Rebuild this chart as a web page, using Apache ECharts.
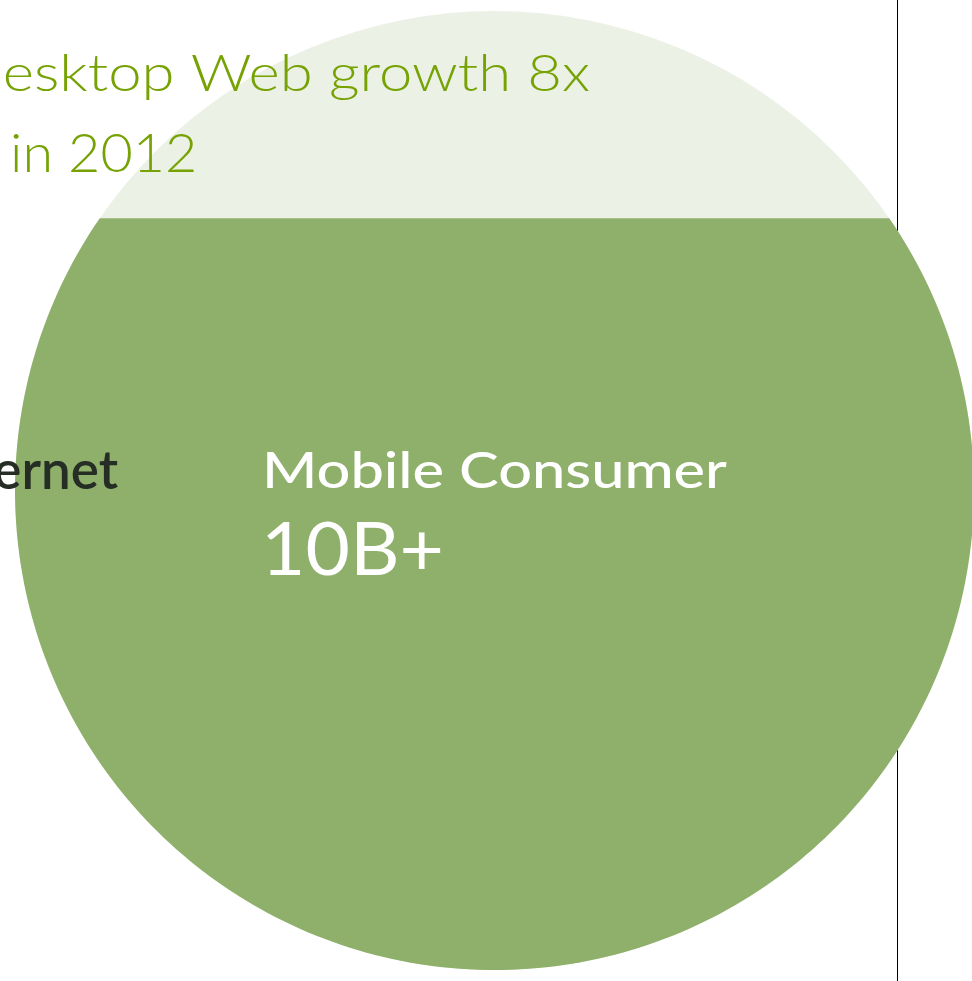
<!DOCTYPE html>
<html>
<head>
<meta charset="utf-8">
<script src="https://cdn.jsdelivr.net/npm/echarts@6/dist/echarts.min.js"></script>
<style>
  html, body { margin: 0; padding: 0; background: #fff; }
  #main { width: 972px; height: 981px; }
</style>
</head>
<body>
<div id="main"></div>
<script>
// share of the circle's height that is Mobile Consumer (from the bottom up)
const fillLevels = [[50, 78.4]]
const topLines = ['Desktop Web growth 8x', 'in 2012']
const sideLabel = ['Internet']
const mobileLabel = ['Mobile Consumer', '10B+']

const chart = echarts.init(document.getElementById('main'))
const FONT = 'Lato'

function renderBubble(params, api) {
  const top = api.coord([50, 100])
  const bottom = api.coord([50, 0])
  const cx = top[0]
  const r = (bottom[1] - top[1]) / 2
  const cy = top[1] + r
  const chordY = api.coord([50, api.value(1)])[1]
  const s0 = Math.max(-1, Math.min(1, (chordY - cy) / r))
  const t0 = Math.asin(s0)
  const t1 = Math.PI - t0
  const pts = []
  const n = 240
  for (let i = 0; i <= n; i++) {
    const t = t0 + (t1 - t0) * i / n
    pts.push([cx + r * Math.cos(t), cy + r * Math.sin(t)])
  }
  return {
    type: 'group',
    children: [
      { type: 'circle', shape: { cx: cx, cy: cy, r: r }, style: { fill: '#ECF1E6' } },
      { type: 'polygon', shape: { points: pts }, style: { fill: '#8FB06A' } }
    ]
  }
}

// text helper: anchored at (x, y), stretched horizontally to match the wide original face
function label(text, x, y, font, fill, align, sx) {
  return {
    type: 'text', z: 10, x: x, y: y, scaleX: sx, originX: 0, originY: 0,
    style: { x: 0, y: 0, text: text, fill: fill, font: font, textAlign: align, textVerticalAlign: 'middle' }
  }
}

chart.setOption({
  animation: false,
  grid: { left: 17, top: 11, width: 959, height: 959 },
  xAxis: { type: 'value', min: 0, max: 100, show: false },
  yAxis: { type: 'value', min: 0, max: 100, show: false },
  graphic: [
    { type: 'line', z: 0, shape: { x1: 897.5, y1: 0, x2: 897.5, y2: 981 }, style: { stroke: '#000', lineWidth: 1 } },
    label(topLines[0], 590, 74, '300 52px ' + FONT, '#76A204', 'right', 1.15),
    label(topLines[1], 10, 155, '300 53px ' + FONT, '#76A204', 'left', 1.05),
    label(sideLabel[0], 118, 472, '600 53px ' + FONT, '#252D24', 'right', 1.0),
    label(mobileLabel[0], 262, 472, '500 50px ' + FONT, '#fff', 'left', 1.19),
    label(mobileLabel[1], 261, 551, '400 73px ' + FONT, '#fff', 'left', 1.05)
  ],
  series: [{
    type: 'custom',
    z: 5,
    silent: true,
    renderItem: renderBubble,
    data: fillLevels
  }]
})
</script>
</body>
</html>
